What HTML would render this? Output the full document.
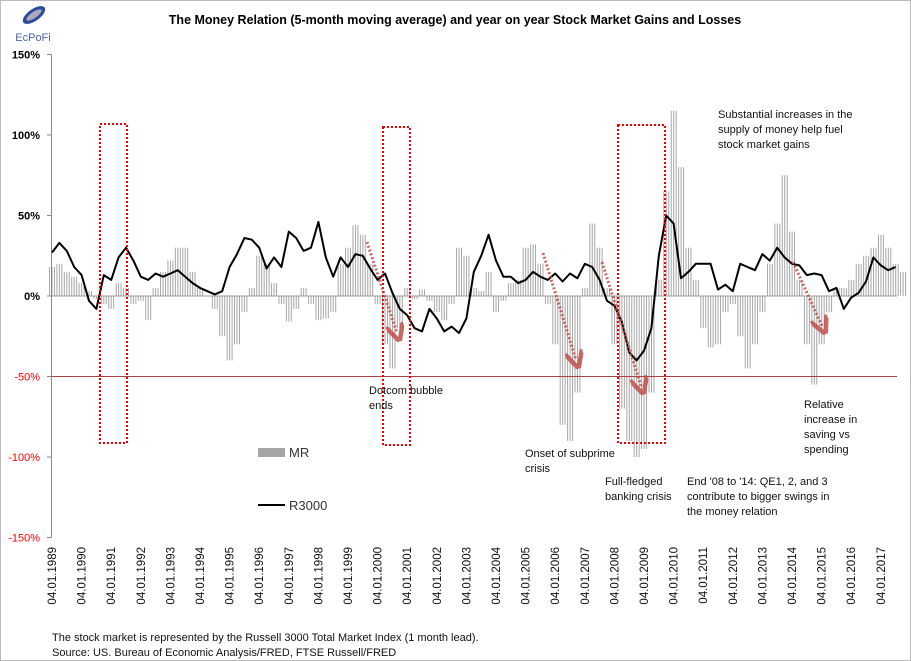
<!DOCTYPE html>
<html><head><meta charset="utf-8"><style>
body{margin:0;background:#fff}
svg{display:block;font-family:"Liberation Sans",Calibri,sans-serif}
</style></head><body>
<svg id="c" width="911" height="661" viewBox="0 0 911 661">
<defs>
<pattern id="stripes" patternUnits="userSpaceOnUse" x="51.5" y="0" width="2.467" height="10"><rect x="0" y="0" width="1" height="10" fill="#a6a6a6"/></pattern>
<marker id="ah" markerWidth="6" markerHeight="6" refX="3" refY="3" orient="auto"><path d="M0,0 L6,3 L0,6" fill="none" stroke="#c0504d" stroke-width="1.5"/></marker>
</defs>
<rect x="0.5" y="0.5" width="910" height="660" fill="#fff" stroke="#bbb"/>
<g>
<ellipse cx="34" cy="15" rx="13" ry="6" fill="#2b4c9b" transform="rotate(-35 34 15)"/>
<ellipse cx="34" cy="15" rx="9" ry="3" fill="#aab" transform="rotate(-35 34 15)"/>
<text x="33" y="41" font-size="11" fill="#4a64b0" text-anchor="middle">EcPoFi</text>
</g>
<text x="455" y="24" font-size="12.5" font-weight="bold" text-anchor="middle">The Money Relation (5-month moving average) and year on year  Stock Market Gains and Losses</text>
<g id="bars"></g>
<g id="axes"></g>
<g id="line"></g>
<g fill="none" stroke="#e00" stroke-width="2" stroke-dasharray="2,2">
<rect x="100" y="124" width="27" height="319"/>
<rect x="383" y="127" width="27" height="318"/>
<rect x="618" y="125" width="47" height="318"/>
</g>
<g stroke="#c0504d" stroke-width="3" stroke-dasharray="2,2" marker-end="url(#ah)" opacity="0.85">
<line x1="367" y1="242" x2="397" y2="333"/>
<line x1="543" y1="253" x2="576" y2="360"/>
<line x1="602" y1="262" x2="641" y2="386"/>
<line x1="793" y1="262" x2="822" y2="326"/>
</g>
<g font-size="11" fill="#111">
<text x="369" y="394"><tspan x="369">Dotcom bubble</tspan><tspan x="369" dy="15">ends</tspan></text>
<text x="525" y="457"><tspan x="525">Onset of subprime</tspan><tspan x="525" dy="15">crisis</tspan></text>
<text x="605" y="485"><tspan x="605">Full-fledged</tspan><tspan x="605" dy="15">banking crisis</tspan></text>
<text x="687" y="485"><tspan x="687">End '08 to '14: QE1, 2, and 3</tspan><tspan x="687" dy="15">contribute to bigger swings in</tspan><tspan x="687" dy="15">the money relation</tspan></text>
<text x="718" y="118"><tspan x="718">Substantial increases in the</tspan><tspan x="718" dy="15">supply of money help fuel</tspan><tspan x="718" dy="15">stock market gains</tspan></text>
<text x="804" y="408"><tspan x="804">Relative</tspan><tspan x="804" dy="15">increase in</tspan><tspan x="804" dy="15">saving vs</tspan><tspan x="804" dy="15">spending</tspan></text>
</g>
<g>
<rect x="258" y="448" width="27" height="9" fill="#a6a6a6"/>
<text x="289" y="457" font-size="13" fill="#333">MR</text>
<line x1="258" y1="505" x2="285" y2="505" stroke="#000" stroke-width="2"/>
<text x="289" y="510" font-size="13" fill="#333">R3000</text>
</g>
<g font-size="11" fill="#111">
<text x="52" y="641">The stock market is represented by the Russell 3000 Total Market Index (1 month lead).</text>
<text x="52" y="656">Source: US. Bureau of Economic Analysis/FRED, FTSE Russell/FRED</text>
</g>
</svg>
<script>
const yTicks=[150,100,50,0,-50,-100,-150];
const yTickLabels=["150%","100%","50%","0%","-50%","-100%","-150%"];
const xYears=[1989,1990,1991,1992,1993,1994,1995,1996,1997,1998,1999,2000,2001,2002,2003,2004,2005,2006,2007,2008,2009,2010,2011,2012,2013,2014,2015,2016,2017];
const r3000=[27,33,28,18,13,-3,-8,13,10,24,30,22,12,10,14,12,14,16,12,8,5,3,1,3,18,26,36,35,30,17,24,18,40,36,28,30,46,24,12,24,18,26,25,17,10,14,2,-8,-12,-20,-22,-8,-14,-22,-19,-23,-14,15,25,38,22,12,12,8,10,15,12,10,14,9,14,11,20,18,10,-3,-6,-16,-35,-40,-34,-20,25,50,45,11,15,20,20,20,4,7,3,20,18,16,26,22,30,24,20,19,13,14,13,3,5,-8,-1,2,9,24,19,16,18];
const mr=[18,20,15,12,8,3,-2,-5,-8,8,5,-5,-3,-15,5,15,22,30,30,15,5,0,-8,-25,-40,-30,-10,5,25,20,8,-5,-16,-8,5,-5,-15,-14,-10,20,30,44,38,20,-5,-30,-45,-20,5,-2,4,-3,-10,-15,-5,30,25,5,3,15,-10,-3,8,10,30,32,20,-5,-30,-80,-90,-60,5,45,30,5,-30,-70,-90,-100,-95,-60,10,65,115,80,30,10,-20,-32,-30,-10,-5,-25,-45,-30,-10,20,45,75,40,10,-30,-55,-30,-10,5,5,10,20,25,30,38,30,20,15];
const NS='http://www.w3.org/2000/svg';
const X0=52, XQ=7.4;
function xs(q){return X0+q*XQ;}
function ys(v){return 296-v*80.5/50;}
function mk(t,a,p){const e=document.createElementNS(NS,t);for(const k in a)e.setAttribute(k,a[k]);p.appendChild(e);return e;}
const bars=document.getElementById('bars');
mr.forEach((v,i)=>{
 const y0=ys(0),y1=ys(v);
 const r=mk('rect',{x:xs(i)-3.7,y:Math.min(y0,y1),width:XQ,height:Math.abs(y1-y0),fill:'url(#stripes)'},bars);
 
 
});
const ax=document.getElementById('axes');
const zl=mk('line',{x1:48,x2:897,y1:ys(0),y2:ys(0),stroke:'#999','stroke-width':1},ax);


const ml=mk('line',{x1:48,x2:897,y1:ys(-50),y2:ys(-50),stroke:'#b04040','stroke-width':1},ax);


const ya=mk('line',{x1:51.5,x2:51.5,y1:ys(150),y2:ys(-150),stroke:'#888'},ax);


yTicks.forEach((v,i)=>{
 mk('line',{x1:47,x2:51.5,y1:ys(v),y2:ys(v),stroke:'#888'},ax);
 const t=mk('text',{x:40,y:ys(v)+4,'font-size':11,'text-anchor':'end',fill:v<0?'#f00':'#000','font-weight':v<0?'normal':'bold'},ax);
 t.textContent=yTickLabels[i];
 
 
});
xYears.forEach((yr,k)=>{
 const x=xs((yr-1989)*4)+4;
 const t=mk('text',{x:0,y:0,'font-size':11.5,'text-anchor':'end',fill:'#111',transform:`translate(${x},547) rotate(-90)`},ax);
 t.textContent='04.01.'+yr;
 
 
});
const lg=document.getElementById('line');
const pl=mk('polyline',{points:r3000.map((v,i)=>xs(i).toFixed(1)+','+ys(v).toFixed(1)).join(' '),fill:'none',stroke:'#000','stroke-width':2,'stroke-linejoin':'round'},lg);


</script>
</body></html>
